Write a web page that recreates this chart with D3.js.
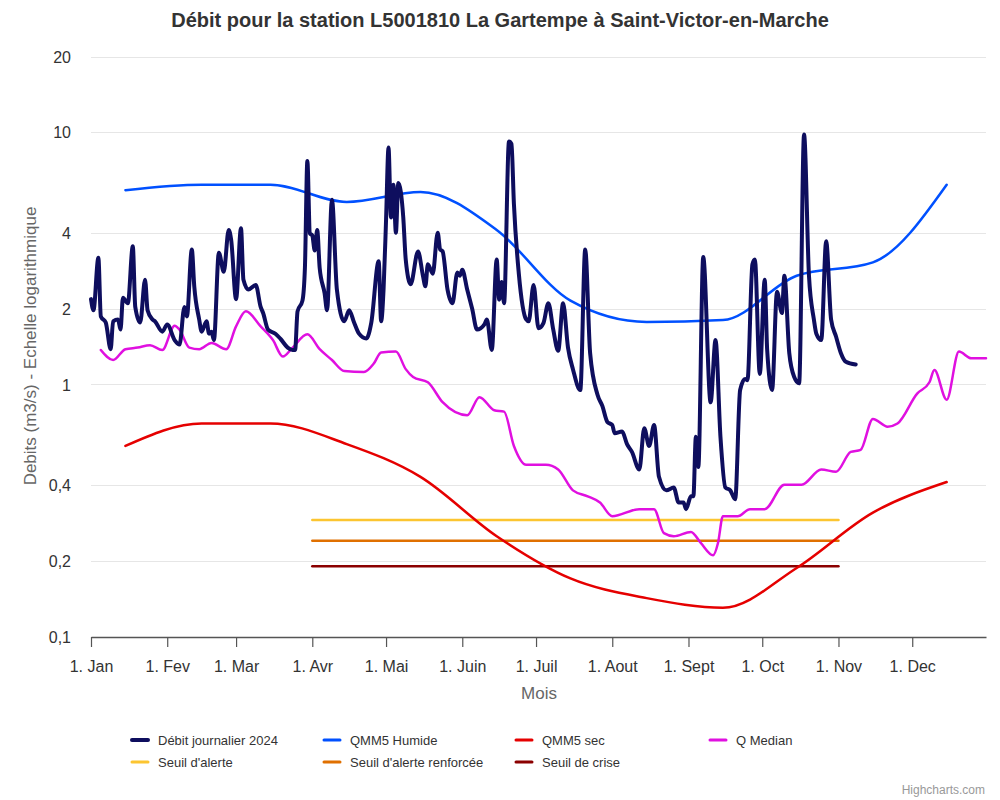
<!DOCTYPE html>
<html>
<head>
<meta charset="utf-8">
<script src="https://cdn.jsdelivr.net/npm/d3@7"></script>
<style>
  body { margin: 0; background: #fff; }
  svg text { font-family: "Liberation Sans", Arial, Helvetica, sans-serif; }
</style>
</head>
<body>
<div id="chart"></div>
<script>
// month tick labels and y ticks
var monthLabels = ["1. Jan", "1. Fev", "1. Mar", "1. Avr", "1. Mai", "1. Juin", "1. Juil", "1. Aout", "1. Sept", "1. Oct", "1. Nov", "1. Dec"]
var yTicks = [0.1, 0.2, 0.4, 1, 2, 4, 10, 20]
var yTickLabels = ["0,1", "0,2", "0,4", "1", "2", "4", "10", "20"]

// daily flow 2024
var debitDates = ["01-01","01-02","01-04","01-05","01-07","01-09","01-10","01-12","01-13","01-14","01-16","01-18","01-19","01-21","01-23","01-24","01-26","01-27","01-30",
  "02-01","02-04","02-06","02-08","02-09","02-11","02-12","02-14","02-15","02-17","02-18","02-19","02-20","02-22","02-24","02-26","02-27",
  "03-01","03-03","03-04","03-06","03-09","03-11","03-12","03-14","03-17","03-19","03-22","03-24","03-25","03-26","03-28","03-29","03-30","03-31",
  "04-01","04-02","04-03","04-04","04-06","04-07","04-09","04-11","04-14","04-16","04-18","04-20","04-23","04-25","04-28","04-29","04-30",
  "05-01","05-02","05-03","05-04","05-05","05-06","05-08","05-09","05-11","05-14","05-16","05-17","05-18","05-20","05-22","05-23","05-24","05-26","05-28","05-30","05-31",
  "06-01","06-03","06-05","06-07","06-10","06-11","06-13","06-15","06-16","06-17","06-18","06-20","06-21","06-22","06-24","06-27","06-28","06-30",
  "07-02","07-04","07-06","07-08","07-10","07-12","07-14","07-16","07-19","07-21","07-23","07-26","07-28","07-30",
  "08-01","08-02","08-05","08-07","08-09","08-12","08-14","08-16","08-18","08-20","08-23","08-26","08-28","08-30","08-31",
  "09-02","09-03","09-04","09-05","09-07","09-10","09-12","09-14","09-16","09-18","09-20","09-22","09-24","09-25","09-27","09-28","09-30",
  "10-02","10-03","10-05","10-07","10-09","10-10","10-12","10-14","10-16","10-18","10-20","10-22","10-23","10-25","10-27","10-29","10-31",
  "11-02","11-04","11-08"]
var debitValues = [2.18,1.97,3.18,1.86,1.76,1.38,1.78,1.81,1.65,2.21,2.1,3.53,2.03,1.76,2.6,1.97,1.81,1.78,1.62,
  1.73,1.50,1.44,2.03,1.86,3.43,2.45,1.81,1.62,1.78,1.59,1.62,1.50,3.33,2.8,4.1,3.75,
  2.18,4.17,2.6,2.38,2.48,2.03,1.92,1.65,1.59,1.52,1.40,1.37,1.37,1.95,2.15,2.9,7.7,3.98,
  3.9,3.4,4.1,2.9,2.3,1.97,5.4,2.38,1.78,1.97,1.76,1.59,1.52,1.76,3.08,1.78,2.4,
  4.5,8.7,4.6,6.2,4.0,6.3,4.6,3.13,2.5,3.37,2.7,2.45,3.0,2.75,4.0,3.43,3.37,2.38,2.1,2.78,2.7,
  2.85,2.38,2.0,1.65,1.73,1.81,1.37,3.13,2.17,2.55,2.1,9.2,9.0,5.2,2.75,1.81,1.78,2.48,
  1.67,1.75,2.1,1.65,1.36,2.1,1.40,1.15,0.95,3.43,1.33,0.91,0.82,0.71,
  0.69,0.64,0.65,0.58,0.54,0.46,0.67,0.57,0.69,0.43,0.38,0.39,0.34,0.34,0.32,
  0.36,0.36,0.62,0.47,3.2,0.85,1.5,0.62,0.39,0.38,0.35,0.95,1.05,1.04,3.0,3.13,1.1,
  2.6,1.37,0.95,2.33,1.92,2.7,1.33,1.07,1.01,9.8,2.7,1.81,1.59,1.50,3.7,1.81,1.55,
  1.33,1.23,1.2]

// monthly references (mid-month)
var monthlyDates = ["01-15","02-15","03-15","04-15","05-15","06-15","07-15","08-15","09-15","10-15","11-15","12-15"]
var qmm5Humide = [5.9, 6.2, 6.2, 5.3, 5.8, 4.1, 2.15, 1.77, 1.8, 2.7, 3.05, 6.2]
var qmm5Sec = [0.57, 0.70, 0.70, 0.58, 0.43, 0.25, 0.17, 0.142, 0.13, 0.187, 0.31, 0.41]

// median flow
var medianDates = ["01-05","01-10","01-15","01-20","01-25","01-30","02-04","02-06","02-10","02-14","02-19","02-25",
  "03-01","03-05","03-11","03-16","03-20","03-24","03-30","04-04","04-09","04-14","04-22","04-26","04-29",
  "05-05","05-09","05-12","05-18","05-24","06-03","06-08","06-14","06-18","06-22","06-27",
  "07-05","07-10","07-16","07-22","07-27","08-01","08-12","08-18","08-22","08-26",
  "09-02","09-06","09-11","09-13","09-15","09-21","09-26","10-02","10-10","10-17","10-25","10-31",
  "11-06","11-10","11-15","11-21","11-25","12-03","12-08","12-10","12-15","12-20","12-25","12-31"]
var medianValues = [1.37,1.25,1.38,1.40,1.43,1.37,1.71,1.65,1.40,1.38,1.46,1.38,
  1.70,1.95,1.70,1.50,1.29,1.40,1.58,1.38,1.25,1.13,1.12,1.21,1.34,
  1.35,1.15,1.07,1.02,0.85,0.755,0.89,0.79,0.78,0.57,0.48,
  0.48,0.46,0.38,0.36,0.34,0.30,0.32,0.32,0.257,0.25,
  0.26,0.235,0.21,0.235,0.30,0.30,0.32,0.32,0.40,0.40,0.46,0.45,
  0.54,0.55,0.73,0.68,0.70,0.92,1.02,1.14,0.87,1.35,1.27,1.27]

// thresholds
var seuilDates = ["04-01", "11-01"]
var seuilAlerte = 0.29
var seuilRenforcee = 0.24
var seuilCrise = 0.19

var width = 1000
var height = 800

function parseDay(s) {
    var p = s.split("-")
    return new Date(2023, +p[0] - 1, +p[1])
}

var svg = d3.select("#chart")
    .append("svg")
    .attr("width", width)
    .attr("height", height)

svg.append("rect").attr("width", width).attr("height", height).attr("fill", "#fff")

var x = d3.scaleTime()
    .domain([new Date(2023, 0, 1), new Date(2023, 11, 31)])
    .range([91, 986])

var y = d3.scaleLog()
    .domain([0.1, 20])
    .range([636.5, 56.5])

// title
svg.append("text")
    .attr("x", 500)
    .attr("y", 27)
    .attr("text-anchor", "middle")
    .style("font-size", "20px")
    .style("font-weight", "bold")
    .attr("fill", "#333")
    .text("Débit pour la station L5001810 La Gartempe à Saint-Victor-en-Marche")

// horizontal grid
svg.append("g")
    .selectAll("line")
    .data(yTicks.slice(1))
    .join("line")
    .attr("x1", 91)
    .attr("x2", 986)
    .attr("y1", (d) => Math.round(y(d)) + 0.5)
    .attr("y2", (d) => Math.round(y(d)) + 0.5)
    .attr("stroke", "#e6e6e6")
    .attr("stroke-width", 1)

// y axis labels
var y_axis = d3.axisLeft(y)
    .tickValues(yTicks)
    .tickFormat((d, i) => yTickLabels[i])
    .tickSize(0)
    .tickPadding(0)

var yg = svg.append("g")
    .attr("transform", "translate(71,0)")
    .call(y_axis)
yg.select(".domain").remove()
yg.selectAll("text")
    .style("font-size", "16px")
    .attr("fill", "#333")
    .attr("dy", "0.35em")

// x axis
var x_axis = d3.axisBottom(x)
    .tickValues(d3.timeMonth.range(new Date(2023, 0, 1), new Date(2023, 11, 2)))
    .tickFormat((d, i) => monthLabels[i])
    .tickSize(10)
    .tickSizeOuter(0)
    .tickPadding(14)

var xg = svg.append("g")
    .attr("transform", "translate(0,637)")
    .call(x_axis)
xg.select(".domain").attr("stroke", "#555").attr("stroke-width", 1.5)
xg.selectAll(".tick line").attr("stroke", "#555").attr("stroke-width", 1.2)
xg.selectAll("text")
    .style("font-size", "16px")
    .attr("fill", "#333")

// axis titles
svg.append("text")
    .attr("transform", "translate(36,346) rotate(-90)")
    .attr("text-anchor", "middle")
    .style("font-size", "17px")
    .attr("fill", "#666")
    .text("Debits (m3/s) - Echelle logarithmique")

svg.append("text")
    .attr("x", 539)
    .attr("y", 699)
    .attr("text-anchor", "middle")
    .style("font-size", "17px")
    .attr("fill", "#666")
    .text("Mois")

var line = d3.line()
    .x((d) => x(d.date))
    .y((d) => y(d.value))
    .curve(d3.curveMonotoneX)

function addLine(dates, values, color, w) {
    var data = dates.map((d, i) => ({ date: parseDay(d), value: values[i] }))
    svg.append("path")
        .datum(data)
        .attr("fill", "none")
        .attr("stroke", color)
        .attr("stroke-width", w)
        .attr("stroke-linejoin", "round")
        .attr("stroke-linecap", "round")
        .attr("d", line)
}

function addFlat(value, color) {
    addLine(seuilDates, seuilDates.map(() => value), color, 2.5)
}

var series = [
    { name: "Débit journalier 2024", color: "#0e0e5e", w: 4 },
    { name: "QMM5 Humide", color: "#0050ff", w: 2.5 },
    { name: "QMM5 sec", color: "#e50000", w: 2.5 },
    { name: "Q Median", color: "#e010e0", w: 2.5 },
    { name: "Seuil d'alerte", color: "#fcc531", w: 2.5 },
    { name: "Seuil d'alerte renforcée", color: "#e07000", w: 2.5 },
    { name: "Seuil de crise", color: "#8b0000", w: 2.5 }
]

addFlat(seuilAlerte, series[4].color)
addFlat(seuilRenforcee, series[5].color)
addFlat(seuilCrise, series[6].color)
addLine(monthlyDates, qmm5Sec, series[2].color, 2.5)
addLine(medianDates, medianValues, series[3].color, 2.5)
addLine(monthlyDates, qmm5Humide, series[1].color, 2.5)
addLine(debitDates, debitValues, series[0].color, 4)

// legend
var legendX = [130, 322, 514, 708]
var legendY = [740, 762]
var legend = svg.append("g")
series.forEach((s, i) => {
    var lx = legendX[i % 4]
    var ly = legendY[Math.floor(i / 4)]
    legend.append("line")
        .attr("x1", lx + 2).attr("x2", lx + 18)
        .attr("y1", ly).attr("y2", ly)
        .attr("stroke", s.color)
        .attr("stroke-width", i == 0 ? 4 : 3)
        .attr("stroke-linecap", "round")
    legend.append("text")
        .attr("x", lx + 28)
        .attr("y", ly + 5)
        .style("font-size", "13px")
        .attr("fill", "#333")
        .text(s.name)
})

// credits
svg.append("text")
    .attr("x", 985)
    .attr("y", 794)
    .attr("text-anchor", "end")
    .style("font-size", "12px")
    .attr("fill", "#999")
    .text("Highcharts.com")
</script>
</body>
</html>
